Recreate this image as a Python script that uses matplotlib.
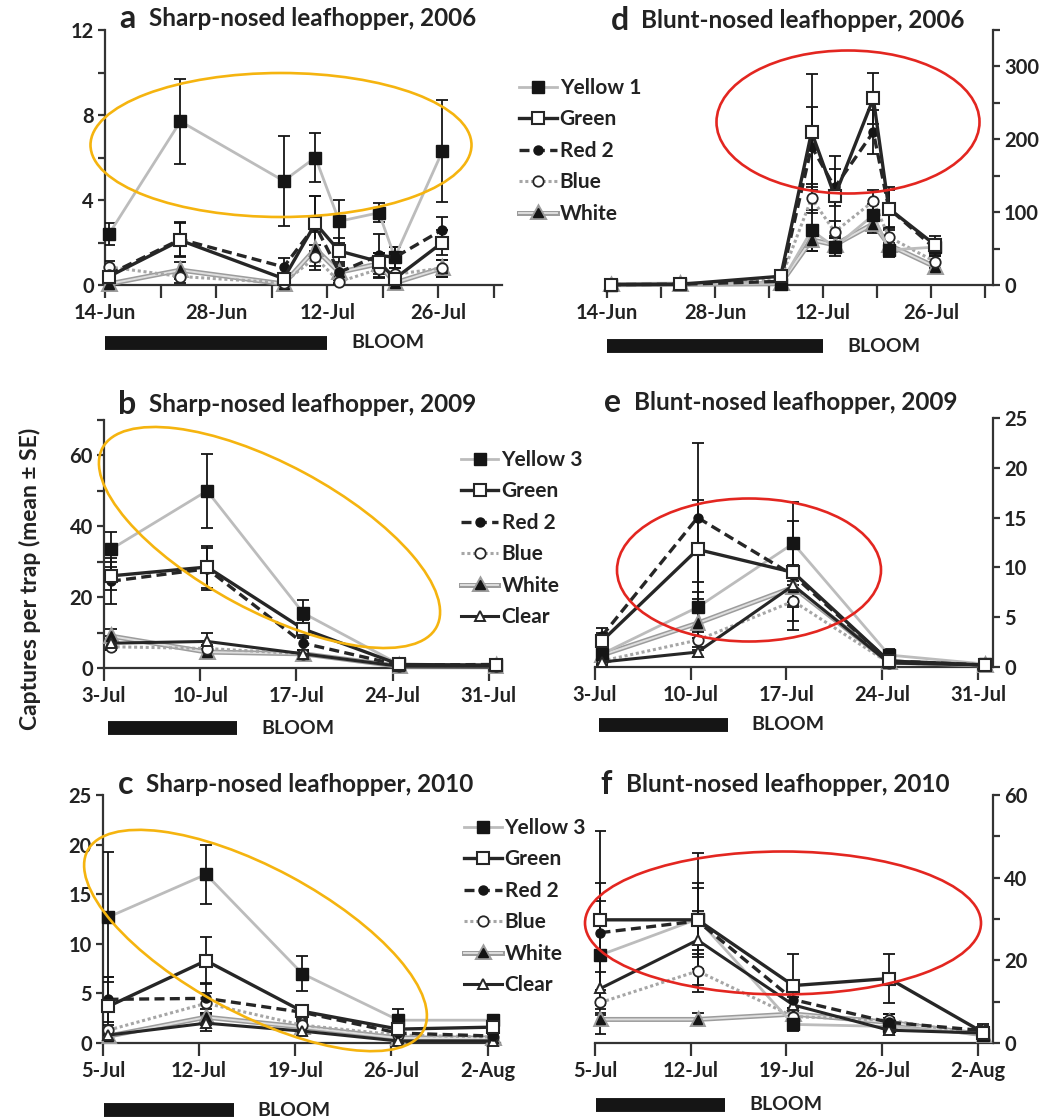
import matplotlib
matplotlib.use('Agg')
import matplotlib.pyplot as plt
from matplotlib.patches import Ellipse
from matplotlib.lines import Line2D
import matplotlib.transforms as mtransforms
import matplotlib.patheffects as pe
from matplotlib.ticker import FixedLocator, FuncFormatter

plt.rcParams['font.family'] = ['Lato', 'DejaVu Sans']

# ---------------- data ----------------
# days after first tick date of each panel
days_2006 = [0.5, 9.5, 22.5, 26.5, 29.5, 34.5, 36.5, 42.5]
days_2009 = [0.5, 7.5, 14.5, 21.5, 28.5]
days_2010 = [0.4, 7.5, 14.5, 21.5, 28.4]

series_2006 = ['Yellow 1', 'Green', 'Red 2', 'Blue', 'White']
series_0910 = ['Yellow 3', 'Green', 'Red 2', 'Blue', 'White', 'Clear']

# (a) Sharp-nosed leafhopper, 2006
a_yellow1 = [2.4, 7.7, 4.9, 6.0, 3.0, 3.4, 1.3, 6.3]
a_yellow1_se = [0.5, 2.0, 2.1, 1.15, 1.0, 0.45, 0.5, 2.4]
a_green = [0.4, 2.1, 0.3, 2.9, 1.6, 1.1, 0.3, 2.0]
a_green_se = [0.3, 0.8, 0.2, 1.3, 0.6, 0.4, 0.2, 0.6]
a_red2 = [0.5, 2.15, 0.85, 2.8, 0.6, 1.4, 1.3, 2.6]
a_red2_se = [0.4, 0.8, 0.4, 1.4, 0.5, 1.0, 0.5, 0.6]
a_blue = [0.85, 0.4, 0.1, 1.3, 0.15, 0.75, 0.5, 0.8]
a_blue_se = [0.3, 0.3, 0.1, 0.6, 0.1, 0.4, 0.3, 0.4]
a_white = [0.05, 0.7, 0.05, 1.7, 0.6, 1.0, 0.1, 0.8]
a_white_se = [0.05, 0.4, 0.05, 0.8, 0.3, 0.5, 0.1, 0.4]

# (d) Blunt-nosed leafhopper, 2006
d_yellow1 = [0.5, 1, 2, 75, 52, 96, 48, 52]
d_yellow1_se = [0.5, 1, 1, 28, 12, 15, 10, 8]
d_green = [0.5, 1, 12, 210, 122, 256, 105, 55]
d_green_se = [0.5, 1, 5, 80, 55, 35, 30, 12]
d_red2 = [0.5, 1, 5, 190, 134, 210, 105, 50]
d_red2_se = [0.5, 1, 3, 55, 25, 30, 25, 10]
d_blue = [0.5, 1, 8, 119, 73, 115, 66, 32]
d_blue_se = [0.5, 1, 3, 20, 15, 15, 12, 8]
d_white = [0.5, 1, 2, 62, 55, 84, 55, 25]
d_white_se = [0.5, 1, 1, 15, 10, 12, 10, 6]

# (b) Sharp-nosed leafhopper, 2009
b_yellow3 = [33.5, 50, 15.5, 1.0, 0.8]
b_yellow3_se = [5, 10.5, 3.7, 0.5, 0.3]
b_green = [26, 28.5, 11, 1.0, 0.8]
b_green_se = [4, 6, 2.5, 0.4, 0.3]
b_red2 = [24.5, 28, 7, 0.8, 1.0]
b_red2_se = [6.5, 6, 2, 0.3, 0.3]
b_blue = [6, 5.5, 4, 0.5, 0.5]
b_blue_se = [1, 1, 0.8, 0.2, 0.2]
b_white = [9, 4.5, 4, 0.5, 0.6]
b_white_se = [2, 1, 0.8, 0.2, 0.2]
b_clear = [7, 7.5, 4, 0.5, 0.5]
b_clear_se = [2, 2.3, 1, 0.2, 0.2]

# (e) Blunt-nosed leafhopper, 2009
e_yellow3 = [1.3, 6.0, 12.4, 1.2, 0.3]
e_yellow3_se = [0.5, 2.5, 4.2, 0.6, 0.1]
e_green = [2.6, 11.8, 9.5, 0.6, 0.2]
e_green_se = [0.8, 5, 3, 0.3, 0.1]
e_red2 = [3.1, 15.0, 9.2, 0.6, 0.2]
e_red2_se = [0.8, 7.5, 5.5, 0.3, 0.1]
e_blue = [0.6, 2.7, 6.6, 0.4, 0.2]
e_blue_se = [0.3, 1, 2, 0.2, 0.1]
e_white = [1.2, 4.4, 8.0, 0.5, 0.2]
e_white_se = [0.4, 1.5, 2, 0.2, 0.1]
e_clear = [0.5, 1.5, 8.2, 0.4, 0.2]
e_clear_se = [0.3, 0.5, 2, 0.2, 0.1]

# (c) Sharp-nosed leafhopper, 2010
c_yellow3 = [12.7, 17.0, 7.0, 2.3, 2.3]
c_yellow3_se = [6.6, 3, 1.8, 1.1, 0.5]
c_green = [3.7, 8.3, 3.2, 1.4, 1.6]
c_green_se = [3, 2.4, 0.6, 0.4, 0.3]
c_red2 = [4.4, 4.5, 3.1, 1.0, 0.7]
c_red2_se = [2.3, 1.5, 0.7, 0.3, 0.2]
c_blue = [1.3, 4.0, 1.8, 0.8, 0.6]
c_blue_se = [0.5, 1, 0.4, 0.3, 0.2]
c_white = [0.7, 2.6, 1.6, 0.5, 0.5]
c_white_se = [0.3, 0.8, 0.4, 0.2, 0.2]
c_clear = [0.8, 2.0, 1.2, 0.2, 0.2]
c_clear_se = [0.3, 0.8, 0.4, 0.1, 0.1]

# (f) Blunt-nosed leafhopper, 2010
f_yellow3 = [21.3, 30.0, 4.5, 4.0, 2.0]
f_yellow3_se = [13, 16, 1.5, 2, 1]
f_green = [29.8, 29.8, 13.9, 15.6, 2.5]
f_green_se = [9, 9, 7.6, 6, 2]
f_red2 = [26.7, 29.5, 10.5, 5.0, 3.0]
f_red2_se = [24.5, 8, 3, 2, 1]
f_blue = [9.8, 17.4, 6.4, 5.5, 2.0]
f_blue_se = [3, 5, 2, 1.5, 1]
f_white = [5.7, 5.7, 7.0, 5.0, 2.0]
f_white_se = [1.5, 1.5, 1.5, 1, 0.8]
f_clear = [13.2, 24.9, 9.2, 3.1, 2.4]
f_clear_se = [4, 7, 2, 1, 1]

ticks_2006 = ['14-Jun', '', '28-Jun', '', '12-Jul', '', '26-Jul', '']
ticks_2009 = ['3-Jul', '10-Jul', '17-Jul', '24-Jul', '31-Jul']
ticks_2010 = ['5-Jul', '12-Jul', '19-Jul', '26-Jul', '2-Aug']

bloom_2006 = (0.0, 28.0)
bloom_2009 = (0.3, 9.7)
bloom_2010 = (0.1, 9.5)

# ---------------- styling ----------------
W, H = 1050, 1120
fig = plt.figure(figsize=(W / 100, H / 100), dpi=100)
TXT = '#222222'
INK = '#151515'

STYLE = {
    'Yellow': dict(color='#bcbcbc', lw=2.0, ls='-', marker='s', mfc=INK, mec=INK, ms=8.5, mew=1.0),
    'Green': dict(color='#262626', lw=2.4, ls='-', marker='s', mfc='white', mec='#262626', ms=8.5, mew=1.5),
    'Red 2': dict(color='#262626', lw=2.4, ls=(0, (3, 1.6)), marker='o', mfc=INK, mec=INK, ms=6.5, mew=1.0),
    'Blue': dict(color='#a6a6a6', lw=2.2, ls=(0, (1, 0.9)), marker='o', mfc='white', mec='#262626', ms=7.5, mew=1.3),
    'White': dict(color='#dedede', lw=1.4, ls='-', marker='^', mfc=INK, mec=INK, ms=7, mew=1.0,
                  path_effects=[pe.Stroke(linewidth=3.6, foreground='#9c9c9c'), pe.Normal()]),
    'Clear': dict(color='#262626', lw=2.2, ls='-', marker='^', mfc='white', mec='#262626', ms=7, mew=1.4),
}
DRAW_ORDER = ['White', 'Blue', 'Yellow', 'Clear', 'Red 2', 'Green']


def key(name):
    return 'Yellow' if name.startswith('Yellow') else name


def px_axes(l, t, r, b):
    return fig.add_axes([l / W, 1 - b / H, (r - l) / W, (b - t) / H])


def make_panel(rect, days, names, values, errs, xticklabels, xlim, ylim, ystep, ylabels, right=False):
    ax = px_axes(*rect)
    d = dict(zip(names, zip(values, errs)))
    handles = {}
    for k in DRAW_ORDER:
        for n in names:
            if key(n) != k:
                continue
            v, e = d[n]
            ax.errorbar(days, v, yerr=e, fmt='none', ecolor=INK, elinewidth=1.3,
                        capsize=4, capthick=1.3, zorder=3)
            st = dict(STYLE[k])
            pef = st.pop('path_effects', None)
            ln, = ax.plot(days, v, color=st['color'], lw=st['lw'], ls=st['ls'], marker=st['marker'],
                          mfc=st['mfc'], mec=st['mec'], ms=st['ms'], mew=st['mew'], label=n, zorder=4,
                          clip_on=False)
            if pef:
                ln.set_path_effects(pef)
            handles[n] = ln
    ax.set_xlim(*xlim)
    ax.set_ylim(*ylim)
    nt = len(xticklabels)
    ax.xaxis.set_major_locator(FixedLocator([7 * i for i in range(nt)]))
    ax.set_xticklabels(xticklabels)
    yt = [ylim[0] + ystep * i for i in range(int(round((ylim[1] - ylim[0]) / ystep)) + 1)]
    ax.yaxis.set_major_locator(FixedLocator(yt))
    ax.yaxis.set_major_formatter(FuncFormatter(lambda v, p: ('%g' % v) if any(abs(v - q) < 1e-6 for q in ylabels) else ''))
    ax.spines['top'].set_visible(False)
    if right:
        ax.spines['left'].set_visible(False)
        ax.yaxis.tick_right()
        ax.yaxis.set_label_position('right')
    else:
        ax.spines['right'].set_visible(False)
    for s in ax.spines.values():
        s.set_color('#333333')
        s.set_linewidth(1.6)
    ax.tick_params(axis='x', direction='out', length=9, width=1.6, color='#333333',
                   labelsize=14.5, labelcolor=TXT, pad=4)
    ax.tick_params(axis='y', direction='out', length=5, width=1.6, color='#333333',
                   labelsize=14.5, labelcolor=TXT, pad=3)
    for t in ax.get_xticklabels() + ax.get_yticklabels():
        t.set_fontweight('bold')
    ax.patch.set_alpha(0)
    return ax, handles


def bloom(ax, period, ypix):
    trans = mtransforms.blended_transform_factory(ax.transData, fig.dpi_scale_trans)
    yin = (H - ypix) / 100
    ln = Line2D([period[0], period[1]], [yin, yin], transform=trans, lw=10, color=INK,
                solid_capstyle='butt')
    fig.add_artist(ln)
    ax.annotate('BLOOM', xy=(period[1], yin), xycoords=trans, xytext=(24, 0),
                textcoords='offset pixels', ha='left', va='center', fontsize=14,
                fontweight='bold', color=TXT, annotation_clip=False)


def title(letter, text, xl, xt, ypix):
    fig.text(xl / W, 1 - ypix / H, letter, fontsize=23, fontweight='bold', color=TXT,
             ha='left', va='center')
    fig.text(xt / W, 1 - ypix / H, text, fontsize=17.5, fontweight='bold', color=TXT,
             ha='left', va='center')


def ellipse(cx, cy, w, h, angle, color):
    e = Ellipse(((cx) / 100, (H - cy) / 100), w / 100, h / 100, angle=angle,
                transform=fig.dpi_scale_trans, fill=False, edgecolor=color, lw=1.9)
    fig.add_artist(e)


ORANGE = '#F5B40F'
RED = '#E32620'

# ---- panels ----
ax_a, h_a = make_panel((105, 30, 502, 285), days_2006, series_2006,
                       [a_yellow1, a_green, a_red2, a_blue, a_white],
                       [a_yellow1_se, a_green_se, a_red2_se, a_blue_se, a_white_se],
                       ticks_2006, (0, 50), (0, 12), 2, [0, 4, 8, 12])
ax_d, h_d = make_panel((607, 30, 993, 285), days_2006, series_2006,
                       [d_yellow1, d_green, d_red2, d_blue, d_white],
                       [d_yellow1_se, d_green_se, d_red2_se, d_blue_se, d_white_se],
                       ticks_2006, (0, 50), (0, 350), 50, [0, 100, 200, 300], right=True)
ax_b, h_b = make_panel((104, 420, 497, 668), days_2009, series_0910,
                       [b_yellow3, b_green, b_red2, b_blue, b_white, b_clear],
                       [b_yellow3_se, b_green_se, b_red2_se, b_blue_se, b_white_se, b_clear_se],
                       ticks_2009, (0, 28.6), (0, 70), 10, [0, 20, 40, 60])
ax_e, h_e = make_panel((595, 418, 993, 667), days_2009, series_0910,
                       [e_yellow3, e_green, e_red2, e_blue, e_white, e_clear],
                       [e_yellow3_se, e_green_se, e_red2_se, e_blue_se, e_white_se, e_clear_se],
                       ticks_2009, (0, 29.1), (0, 25), 5, [0, 5, 10, 15, 20, 25], right=True)
ax_c, h_c = make_panel((103, 795, 500, 1043), days_2010, series_0910,
                       [c_yellow3, c_green, c_red2, c_blue, c_white, c_clear],
                       [c_yellow3_se, c_green_se, c_red2_se, c_blue_se, c_white_se, c_clear_se],
                       ticks_2010, (0, 28.9), (0, 25), 5, [0, 5, 10, 15, 20, 25])
ax_f, h_f = make_panel((595, 795, 993, 1043), days_2010, series_0910,
                       [f_yellow3, f_green, f_red2, f_blue, f_white, f_clear],
                       [f_yellow3_se, f_green_se, f_red2_se, f_blue_se, f_white_se, f_clear_se],
                       ticks_2010, (0, 29.1), (0, 60), 10, [0, 20, 40, 60], right=True)

# bloom bars
bloom(ax_a, bloom_2006, 343)
bloom(ax_d, bloom_2006, 346)
bloom(ax_b, bloom_2009, 728)
bloom(ax_e, bloom_2009, 725)
bloom(ax_c, bloom_2010, 1110)
bloom(ax_f, bloom_2010, 1105)

# titles
title('a', 'Sharp-nosed leafhopper, 2006', 119, 149, 19)
title('d', 'Blunt-nosed leafhopper, 2006', 611, 641, 21)
title('b', 'Sharp-nosed leafhopper, 2009', 118, 149, 404)
title('e', 'Blunt-nosed leafhopper, 2009', 604, 634, 402)
title('c', 'Sharp-nosed leafhopper, 2010', 118, 146, 785)
title('f', 'Blunt-nosed leafhopper, 2010', 600, 626, 785)

fig.text(30 / W, 1 - 579 / H, 'Captures per trap (mean \u00b1 SE)', rotation=90, ha='center',
         va='center', fontsize=16.5, fontweight='bold', color=TXT)

# legends
def legend(handles, names, left, top):
    lg = fig.legend([handles[n] for n in names], names, loc='upper left',
                    bbox_to_anchor=(left / W, 1 - top / H), frameon=False, borderpad=0,
                    borderaxespad=0, handlelength=1.8, handletextpad=0.15, labelspacing=0.55,
                    prop=dict(size=15, weight='bold'))
    for t in lg.get_texts():
        t.set_color(TXT)
    return lg

legend(h_a, series_2006, 519, 78)
legend(h_b, series_0910, 461, 450)
legend(h_c, series_0910, 464, 818)

# highlight ellipses
ellipse(281, 145, 381, 144, 0, ORANGE)
ellipse(269.5, 537.5, 379, 147, -28.2, ORANGE)
ellipse(255.5, 940.5, 381, 146, -28.2, ORANGE)
ellipse(848, 122, 263, 143, 0, RED)
ellipse(749, 570, 264, 143, 0, RED)
ellipse(783, 923, 396, 143, 0, RED)

fig.savefig('out.png', dpi=100)
